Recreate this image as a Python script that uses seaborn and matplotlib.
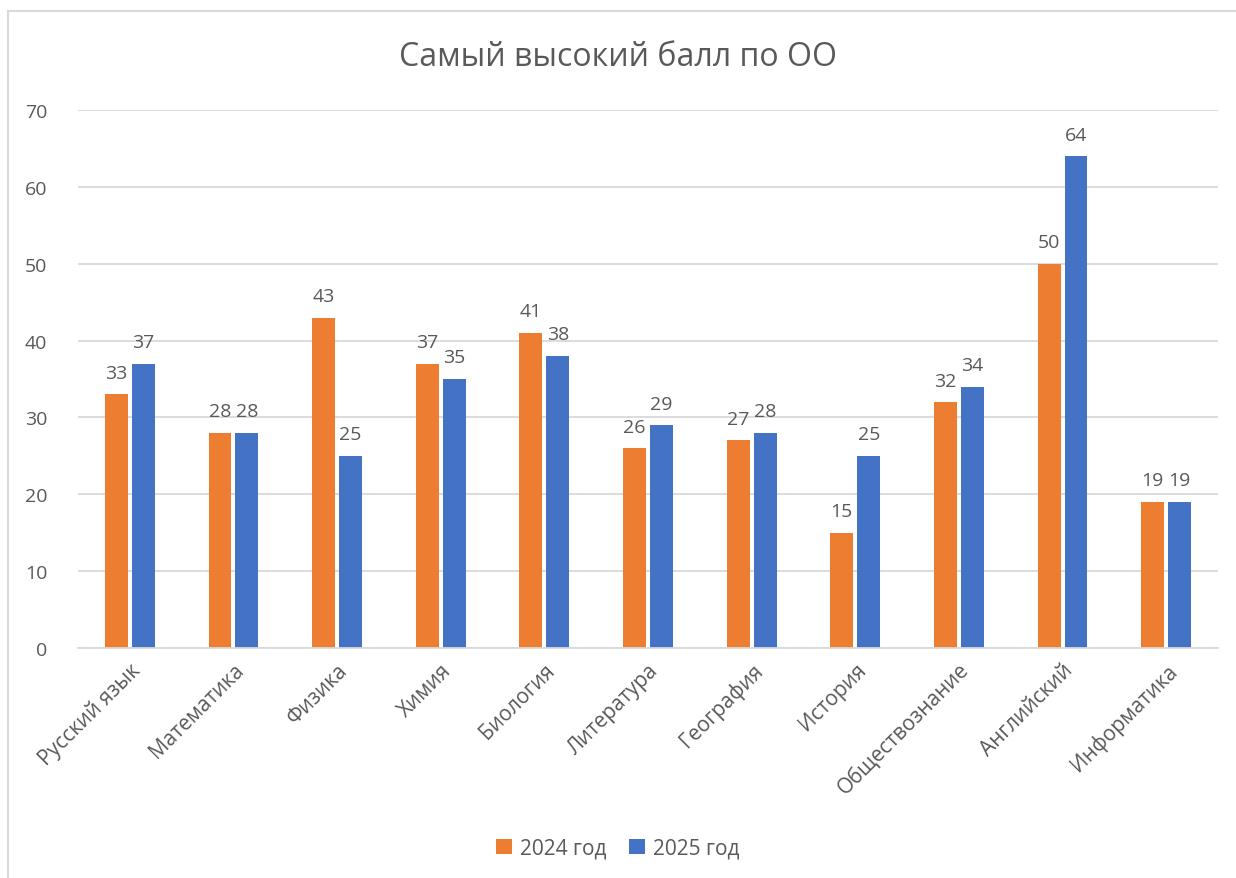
import matplotlib.pyplot as plt
import seaborn as sns
import pandas as pd
from matplotlib.patches import Rectangle

predmety = ["Русский язык", "Математика", "Физика", "Химия", "Биология",
            "Литература", "География", "История", "Обществознание",
            "Английский", "Информатика"]
god_2024 = [33, 28, 43, 37, 41, 26, 27, 15, 32, 50, 19]
god_2025 = [37, 28, 25, 35, 38, 29, 28, 25, 34, 64, 19]
serii = ["2024 год", "2025 год"]
yticks = [0, 10, 20, 30, 40, 50, 60, 70]

df = pd.DataFrame({
    "Предмет": predmety * 2,
    "Балл": god_2024 + god_2025,
    "Год": [serii[0]] * len(predmety) + [serii[1]] * len(predmety),
})

sns.set_theme(style="white")
plt.rcParams['font.family'] = ['Open Sans', 'DejaVu Sans']
gris = "#595959"

fig = plt.figure(figsize=(12.36, 8.79), dpi=100)
ax = fig.add_axes([78 / 1236, 1 - 649 / 879, (1218 - 78) / 1236, (649 - 111) / 879])

sns.barplot(data=df, x="Предмет", y="Балл", hue="Год",
            palette=["#ED7D31", "#4472C4"], width=0.52, gap=0.15,
            saturation=1, linewidth=0, ax=ax, legend=True)

# подписи значений над столбцами
for cont in ax.containers:
    ax.bar_label(cont, fmt="%d", padding=9, fontsize=14, color=gris)

ax.set_ylim(0, 70)
ax.set_yticks(yticks)
ax.yaxis.grid(True, color="#D9D9D9", linewidth=1.3)
ax.set_axisbelow(True)
for s in ["top", "right", "left"]:
    ax.spines[s].set_visible(False)
ax.spines["bottom"].set_color("#D9D9D9")
ax.spines["bottom"].set_linewidth(1.3)
ax.tick_params(axis="y", labelsize=14, labelcolor=gris, length=0, pad=22)
ax.tick_params(axis="x", labelsize=15, labelcolor=gris, length=0, pad=8)
plt.setp(ax.get_xticklabels(), rotation=45, ha="right", rotation_mode="anchor")
ax.set_xlabel("")
ax.set_ylabel("")

ax.legend(loc="center", bbox_to_anchor=(0.5, 1 - 849 / 879), bbox_transform=fig.transFigure,
          ncol=2, frameon=False, fontsize=15, labelcolor=gris,
          handlelength=0.75, handleheight=0.75, handletextpad=0.4, columnspacing=1.1)

fig.text(0.5, 1 - 57 / 879, "Самый высокий балл по ОО", ha="center", va="center",
         fontsize=23, color=gris)

# рамка вокруг диаграммы
fig.patches.append(Rectangle((8 / 1236, -0.1), 1.2, 1 - 12 / 879 + 0.1,
                             transform=fig.transFigure, fill=False,
                             edgecolor="#D9D9D9", linewidth=1.5))

plt.savefig("out.png", dpi=100)
plt.close()
